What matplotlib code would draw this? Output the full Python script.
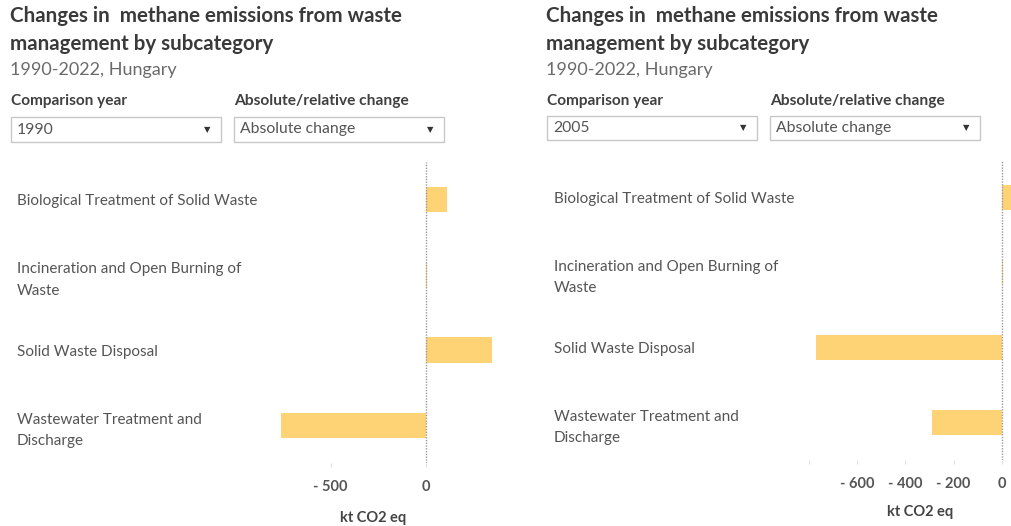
import matplotlib.pyplot as plt
import matplotlib.patches as patches
from matplotlib.ticker import FuncFormatter

plt.rcParams['font.family'] = ['Lato', 'DejaVu Sans']

categories = ["Biological Treatment of Solid Waste",
              "Incineration and Open Burning of\nWaste",
              "Solid Waste Disposal",
              "Wastewater Treatment and\nDischarge"]
change_1990 = [114, 6, 350, -761]
change_2005 = [70, 4, -771, -291]
ticks_1990 = [-500, 0]
ticks_2005 = [-800, -600, -400, -200, 0]

W, H = 1012, 526
BAR = "#fdd376"


def fx(x):
    return x / W


def fy(y):
    return 1 - y / H


def fmt(v, pos):
    if v == 0:
        return "0"
    return "- %d" % abs(v) if v < 0 else "%d" % v


def dropdown(x0, x1, y0, y1, label):
    fig.patches.append(patches.Rectangle((fx(x0), fy(y1)), (x1 - x0) / W, (y1 - y0) / H,
                                         transform=fig.transFigure, fill=False,
                                         edgecolor="#c8c8c8", lw=1))
    fig.text(fx(x0 + 6), fy((y0 + y1) / 2), label, fontsize=11.3, color="#555555", va="center")
    fig.text(fx(x1 - 14), fy((y0 + y1) / 2), "\u25bc", fontsize=6, color="#333333",
             va="center", ha="center", family="DejaVu Sans")


def panel(x0, year, values, ticks, ax_box, xlim, bottom, hide_first):
    fig.text(fx(x0), fy(16), "Changes in  methane emissions from waste", fontsize=14.8,
             fontweight="bold", color="#3a3a3a", va="center")
    fig.text(fx(x0), fy(44), "management by subcategory", fontsize=14.8,
             fontweight="bold", color="#3a3a3a", va="center")
    fig.text(fx(x0), fy(70), "1990-2022, Hungary", fontsize=13, color="#6a6a6a", va="center")
    fig.text(fx(x0 + 1), fy(101), "Comparison year", fontsize=11.1, fontweight="bold",
             color="#404040", va="center")
    fig.text(fx(x0 + 224), fy(101), "Absolute/relative change", fontsize=11.2, fontweight="bold",
             color="#404040", va="center")
    dropdown(x0 + 1, x0 + 211, bottom[0], bottom[1], year)
    dropdown(x0 + 224, x0 + 434, bottom[0], bottom[1], "Absolute change")

    ax = fig.add_axes(ax_box)
    ax.barh(range(len(categories)), values, height=0.34, color=BAR)
    ax.axvline(0, color="#9a9a9a", lw=1, linestyle=(0, (1, 1)))
    ax.set_xlim(*xlim)
    ax.set_ylim(3.5, -0.5)
    ax.set_yticks(range(len(categories)))
    ax.set_yticklabels(categories, fontsize=11, color="#555555", ha="left", linespacing=1.65)
    ax.set_xticks(ticks)
    ax.xaxis.set_major_formatter(FuncFormatter(fmt))
    if hide_first:
        ax.get_xticklabels()[0].set_visible(False)
    for s in ax.spines.values():
        s.set_visible(False)
    ax.tick_params(axis="x", length=3, color="#e0e0e0", labelsize=10.5, labelcolor="#555555", pad=9)
    for t in ax.get_xticklabels():
        t.set_fontweight("bold")
    ax.tick_params(axis="y", length=0)
    return ax


fig = plt.figure(figsize=(W / 100, H / 100), dpi=100)

ax1 = panel(10, "1990", change_1990, ticks_1990,
            [fx(270), fy(463), 235 / W, 301 / H], (-819.5, 417.4), (117, 142), False)
ax1.tick_params(axis="y", pad=(270 - 17) / 1.389)
fig.text(fx(373), fy(518), "kt CO2 eq", fontsize=10.5, fontweight="bold", color="#444444",
         ha="center", va="center")

ax2 = panel(546, "2005", change_2005, ticks_2005,
            [fx(800), fy(460), 240 / W, 300 / H], (-835.7, 157.2), (116, 140), True)
ax2.tick_params(axis="y", pad=(800 - 554) / 1.389)
fig.text(fx(920), fy(512), "kt CO2 eq", fontsize=10.5, fontweight="bold", color="#444444",
         ha="center", va="center")

fig.savefig("out.png", dpi=100)
